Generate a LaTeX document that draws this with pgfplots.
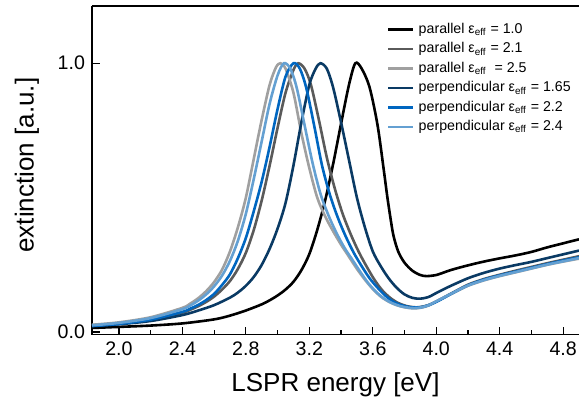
\documentclass[border=0pt]{standalone}
\usepackage{fontspec}
\setmainfont{Liberation Sans}
\usepackage{pgfplots}
\pgfplotsset{compat=1.18}
\definecolor{cDG}{RGB}{90,90,90}
\definecolor{cLG}{RGB}{160,160,160}
\definecolor{cNV}{RGB}{10,58,100}
\definecolor{cB}{RGB}{0,102,192}
\definecolor{cLB}{RGB}{100,160,210}
\begin{document}
\begin{tikzpicture}
\useasboundingbox (0,0) rectangle (289.5pt,206.5pt);
\begin{axis}[
  at={(46pt,39.15pt)}, anchor=south west,
  scale only axis, width=243.5pt, height=164.35pt,
  xmin=1.83, xmax=4.9, ymin=-0.01, ymax=1.213,
  axis x line=box, axis y line=left,
  y axis line style={-},
  axis line style={line width=0.7pt},
  xtick pos=bottom, ytick pos=left,
  xtick={2.0,2.4,...,4.81}, minor x tick num=1,
  ytick={0,1},
  tick align=inside,
  major tick length=4pt, minor tick length=2.3pt,
  tick style={line width=0.6pt, black},
  /pgf/number format/assume math mode=true,
  xticklabel style={/pgf/number format/fixed, /pgf/number format/fixed zerofill, /pgf/number format/precision=1},
  yticklabel style={/pgf/number format/fixed, /pgf/number format/fixed zerofill, /pgf/number format/precision=1},
  tick label style={font=\fontsize{9.8}{11}\selectfont},
  xlabel={LSPR energy [eV]},
  ylabel={extinction [a.u.]},
  label style={font=\fontsize{13}{15}\selectfont},
  xlabel style={at={(axis description cs:0.5,-0.152)}, anchor=center},
  ylabel style={at={(axis description cs:-0.1335,0.516)}, anchor=center},
  legend style={draw=none, fill=none, at={(rel axis cs:0.605,0.962)}, anchor=north west,
    font=\fontsize{7.1}{8}\selectfont, row sep=-0.9pt, inner sep=0pt,
    /tikz/every even column/.append style={column sep=0pt}},
  legend cell align=left,
  legend image code/.code={\draw[#1, line width=1.35pt] (0pt,0pt) -- (12.5pt,0pt);},
  every axis plot/.append style={line width=1.3pt, smooth, tension=0.5},
]
\addplot[black] coordinates {
(1.83,0.015) (2.0,0.019) (2.2,0.024) (2.4,0.032) (2.6,0.047) (2.7,0.061) (2.8,0.080) (2.9,0.103) (2.95,0.118) (3.0,0.136) (3.05,0.158) (3.1,0.187) (3.15,0.230) (3.2,0.29) (3.25,0.38) (3.3,0.49) (3.35,0.625) (3.4,0.775) (3.45,0.92) (3.49,1.0) (3.53,0.98) (3.58,0.91) (3.63,0.77) (3.67,0.60) (3.69,0.51) (3.71,0.43) (3.73,0.36) (3.76,0.30) (3.8,0.258) (3.85,0.228) (3.9,0.212) (3.94,0.208) (4.0,0.212) (4.05,0.222) (4.1,0.232) (4.2,0.248) (4.3,0.262) (4.4,0.274) (4.5,0.285) (4.6,0.298) (4.7,0.315) (4.8,0.330) (4.9,0.345)};
\addlegendentry{parallel ε\textsubscript{eff} = 1.0}
\addplot[cDG] coordinates {
(1.83,0.025) (2.0,0.032) (2.2,0.046) (2.4,0.072) (2.45,0.083) (2.5,0.096) (2.55,0.112) (2.6,0.132) (2.65,0.158) (2.7,0.19) (2.75,0.235) (2.8,0.295) (2.85,0.38) (2.9,0.49) (2.95,0.62) (3.0,0.76) (3.05,0.89) (3.1,0.975) (3.13,1.0) (3.17,0.98) (3.21,0.92) (3.26,0.79) (3.31,0.65) (3.36,0.535) (3.41,0.44) (3.46,0.365) (3.51,0.30) (3.56,0.245) (3.61,0.195) (3.66,0.155) (3.71,0.127) (3.76,0.108) (3.81,0.097) (3.86,0.092) (3.9,0.093) (3.95,0.100) (4.0,0.114) (4.1,0.145) (4.2,0.176) (4.3,0.197) (4.4,0.213) (4.5,0.228) (4.6,0.242) (4.7,0.256) (4.8,0.269) (4.9,0.282)};
\addlegendentry{parallel ε\textsubscript{eff} = 2.1}
\addplot[cLG] coordinates {
(1.83,0.027) (2.0,0.036) (2.2,0.055) (2.4,0.090) (2.45,0.106) (2.5,0.126) (2.55,0.152) (2.6,0.186) (2.65,0.232) (2.7,0.30) (2.75,0.39) (2.8,0.50) (2.85,0.645) (2.9,0.79) (2.95,0.92) (2.99,0.985) (3.018,1.0) (3.05,0.98) (3.1,0.89) (3.15,0.74) (3.2,0.61) (3.25,0.50) (3.3,0.43) (3.35,0.375) (3.4,0.325) (3.45,0.28) (3.5,0.235) (3.55,0.195) (3.6,0.16) (3.65,0.132) (3.7,0.113) (3.75,0.100) (3.8,0.092) (3.85,0.088) (3.9,0.090) (3.95,0.098) (4.0,0.113) (4.05,0.128) (4.1,0.143) (4.2,0.172) (4.3,0.192) (4.4,0.208) (4.5,0.222) (4.6,0.236) (4.7,0.250) (4.8,0.262) (4.9,0.273)};
\addlegendentry{parallel ε\textsubscript{eff}\ \ = 2.5}
\addplot[cNV] coordinates {
(1.83,0.023) (2.0,0.029) (2.2,0.041) (2.4,0.063) (2.5,0.080) (2.6,0.100) (2.7,0.128) (2.75,0.147) (2.8,0.172) (2.85,0.205) (2.9,0.25) (2.95,0.31) (3.0,0.385) (3.05,0.48) (3.1,0.62) (3.15,0.78) (3.2,0.92) (3.24,0.98) (3.27,1.0) (3.31,0.98) (3.35,0.91) (3.4,0.78) (3.45,0.64) (3.5,0.50) (3.55,0.39) (3.6,0.30) (3.65,0.245) (3.7,0.20) (3.75,0.165) (3.8,0.14) (3.85,0.127) (3.9,0.124) (3.95,0.130) (4.0,0.145) (4.05,0.160) (4.1,0.174) (4.2,0.200) (4.3,0.220) (4.4,0.236) (4.5,0.249) (4.6,0.261) (4.7,0.275) (4.8,0.289) (4.9,0.303)};
\addlegendentry{perpendicular ε\textsubscript{eff} = 1.65}
\addplot[cB] coordinates {
(1.83,0.022) (2.0,0.030) (2.2,0.046) (2.4,0.075) (2.45,0.087) (2.5,0.101) (2.55,0.119) (2.6,0.142) (2.65,0.175) (2.7,0.215) (2.75,0.275) (2.8,0.35) (2.85,0.45) (2.9,0.56) (2.95,0.69) (3.0,0.83) (3.05,0.95) (3.10,1.0) (3.14,0.98) (3.18,0.91) (3.23,0.77) (3.28,0.62) (3.33,0.51) (3.38,0.425) (3.43,0.355) (3.48,0.295) (3.53,0.245) (3.58,0.20) (3.63,0.165) (3.68,0.135) (3.73,0.113) (3.78,0.100) (3.83,0.093) (3.87,0.091) (3.92,0.094) (3.97,0.104) (4.02,0.118) (4.1,0.144) (4.2,0.174) (4.3,0.195) (4.4,0.211) (4.5,0.225) (4.6,0.239) (4.7,0.253) (4.8,0.266) (4.9,0.278)};
\addlegendentry{perpendicular ε\textsubscript{eff} = 2.2}
\addplot[cLB] coordinates {
(1.83,0.025) (2.0,0.034) (2.2,0.052) (2.4,0.085) (2.45,0.099) (2.5,0.117) (2.55,0.140) (2.6,0.170) (2.65,0.21) (2.7,0.265) (2.75,0.34) (2.8,0.44) (2.85,0.57) (2.9,0.71) (2.95,0.85) (3.0,0.955) (3.04,1.0) (3.08,0.98) (3.12,0.91) (3.17,0.77) (3.22,0.63) (3.27,0.515) (3.32,0.435) (3.37,0.37) (3.42,0.315) (3.47,0.27) (3.52,0.225) (3.57,0.183) (3.62,0.15) (3.67,0.125) (3.72,0.108) (3.77,0.097) (3.82,0.091) (3.86,0.089) (3.9,0.091) (3.95,0.099) (4.0,0.114) (4.05,0.129) (4.1,0.144) (4.2,0.173) (4.3,0.193) (4.4,0.209) (4.5,0.223) (4.6,0.237) (4.7,0.251) (4.8,0.263) (4.9,0.275)};
\addlegendentry{perpendicular ε\textsubscript{eff} = 2.4}
\end{axis}
\end{tikzpicture}
\end{document}
